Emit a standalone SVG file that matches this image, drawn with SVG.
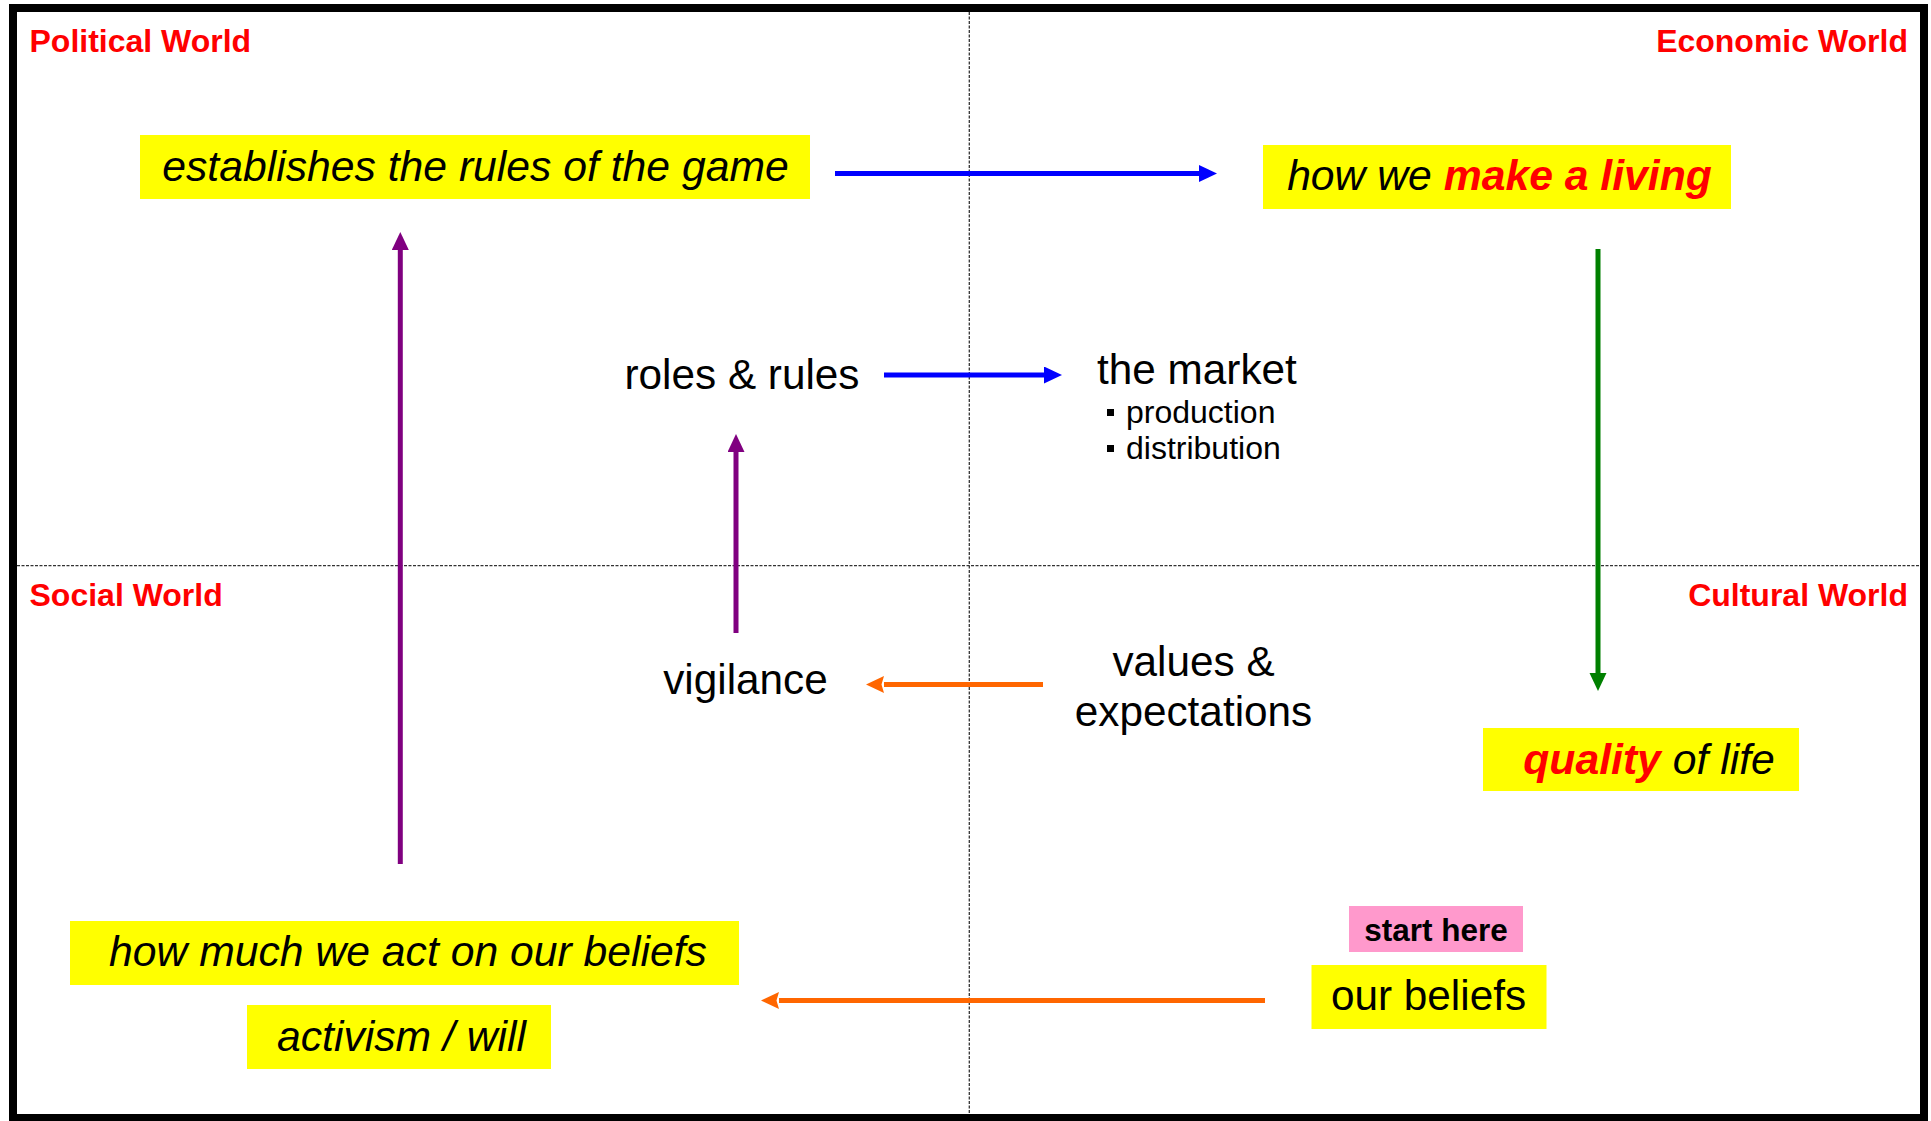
<svg xmlns="http://www.w3.org/2000/svg" width="1931" height="1121" viewBox="0 0 1931 1121">
<style>
.lbl{font-family:"Liberation Sans",Arial,sans-serif;font-size:32px;font-weight:bold;fill:#FF0000}
.t{font-family:"Liberation Sans",Arial,sans-serif;font-size:42.3px;fill:#000000}
.it{font-style:italic;font-size:42.7px}
.hl{font-weight:bold;fill:#FF0000}
.small{font-family:"Liberation Sans",Arial,sans-serif;font-size:32px;fill:#000000}
.box{fill:#FFFF00}
.grid{stroke:#333333;stroke-width:1.3;stroke-dasharray:3 1.5;fill:none}
.c{fill:none;stroke-width:5}
</style>
<defs>
<marker id="mBlue" markerUnits="userSpaceOnUse" markerWidth="18" markerHeight="18" refX="0" refY="8.5" orient="auto"><path d="M0,0 L18,8.5 L0,17 Z" fill="#0000FF"/></marker>
<marker id="mPurple" markerUnits="userSpaceOnUse" markerWidth="18" markerHeight="18" refX="0" refY="8.5" orient="auto"><path d="M0,0 L18,8.5 L0,17 Z" fill="#800080"/></marker>
<marker id="mGreen" markerUnits="userSpaceOnUse" markerWidth="18" markerHeight="18" refX="0" refY="8.5" orient="auto"><path d="M0,0 L18,8.5 L0,17 Z" fill="#008000"/></marker>
<marker id="mOrange" markerUnits="userSpaceOnUse" markerWidth="18" markerHeight="18" refX="0" refY="8.5" orient="auto"><path d="M0,0 L18,8.5 L0,17 L2.5,8.5 Z" fill="#FF6600"/></marker>
</defs>
<rect x="13" y="8" width="1911" height="1110" fill="#FFFFFF" stroke="#000000" stroke-width="8"/>
<g id="quadrants">
<line class="grid" x1="969.3" y1="12" x2="969.3" y2="1114"/>
<line class="grid" x1="17" y1="565.7" x2="1920" y2="565.7"/>
<text class="lbl" x="29.5" y="52">Political World</text>
<text class="lbl" x="1908" y="52" text-anchor="end">Economic World</text>
<text class="lbl" x="29.5" y="606">Social World</text>
<text class="lbl" x="1908" y="606" text-anchor="end">Cultural World</text>
</g>
<g id="connectors">
<line class="c" stroke="#0000FF" x1="835" y1="173.5" x2="1199" y2="173.5" marker-end="url(#mBlue)"/>
<line class="c" stroke="#0000FF" x1="884" y1="375" x2="1044" y2="375" marker-end="url(#mBlue)"/>
<line class="c" stroke="#800080" x1="400.3" y1="864" x2="400.3" y2="250" marker-end="url(#mPurple)"/>
<line class="c" stroke="#800080" x1="736" y1="633" x2="736" y2="452" marker-end="url(#mPurple)"/>
<line class="c" stroke="#008000" x1="1598" y1="249" x2="1598" y2="673" marker-end="url(#mGreen)"/>
<line class="c" stroke="#FF6600" x1="1043" y1="684.5" x2="884" y2="684.5" marker-end="url(#mOrange)"/>
<line class="c" stroke="#FF6600" x1="1265" y1="1000.5" x2="779" y2="1000.5" marker-end="url(#mOrange)"/>
</g>
<g id="rules-of-game">
<rect class="box" x="140" y="135" width="670" height="64"/>
<text class="t it" x="475.5" y="181" text-anchor="middle">establishes the rules of the game</text>
</g>
<g id="make-a-living">
<rect class="box" x="1263" y="145" width="468" height="64"/>
<text class="t it" x="1499.5" y="190" text-anchor="middle">how we <tspan class="hl">make a living</tspan></text>
</g>
<g id="roles-rules">
<text class="t" x="742" y="388.5" text-anchor="middle">roles &amp; rules</text>
</g>
<g id="the-market">
<text class="t" x="1097" y="384">the market</text>
<rect x="1107" y="409" width="7" height="7" fill="#000000"/>
<text class="small" x="1126" y="423">production</text>
<rect x="1107" y="445" width="7" height="7" fill="#000000"/>
<text class="small" x="1126" y="459">distribution</text>
</g>
<g id="vigilance">
<text class="t" x="745.5" y="694" text-anchor="middle">vigilance</text>
</g>
<g id="values-expectations">
<text class="t" x="1193.5" y="676" text-anchor="middle">values &amp;</text>
<text class="t" x="1193.5" y="726" text-anchor="middle">expectations</text>
</g>
<g id="quality-of-life">
<rect class="box" x="1483" y="728" width="316" height="63"/>
<text class="t it" x="1649" y="773.5" text-anchor="middle"><tspan class="hl">quality</tspan> of life</text>
</g>
<g id="start-here">
<rect x="1349" y="906" width="174" height="46" fill="#FF99CC"/>
<text x="1436" y="940.5" text-anchor="middle" font-family="'Liberation Sans',Arial,sans-serif" font-size="31.5" font-weight="bold" fill="#000000">start here</text>
</g>
<g id="our-beliefs">
<rect class="box" x="1311.5" y="965" width="235" height="64"/>
<text class="t" x="1428.5" y="1009.5" text-anchor="middle">our beliefs</text>
</g>
<g id="act-on-beliefs">
<rect class="box" x="70" y="921" width="669" height="64"/>
<text class="t it" x="408" y="966" text-anchor="middle">how much we act on our beliefs</text>
</g>
<g id="activism">
<rect class="box" x="247" y="1005" width="304" height="64"/>
<text class="t it" x="401.5" y="1051" text-anchor="middle">activism / will</text>
</g>
</svg>
